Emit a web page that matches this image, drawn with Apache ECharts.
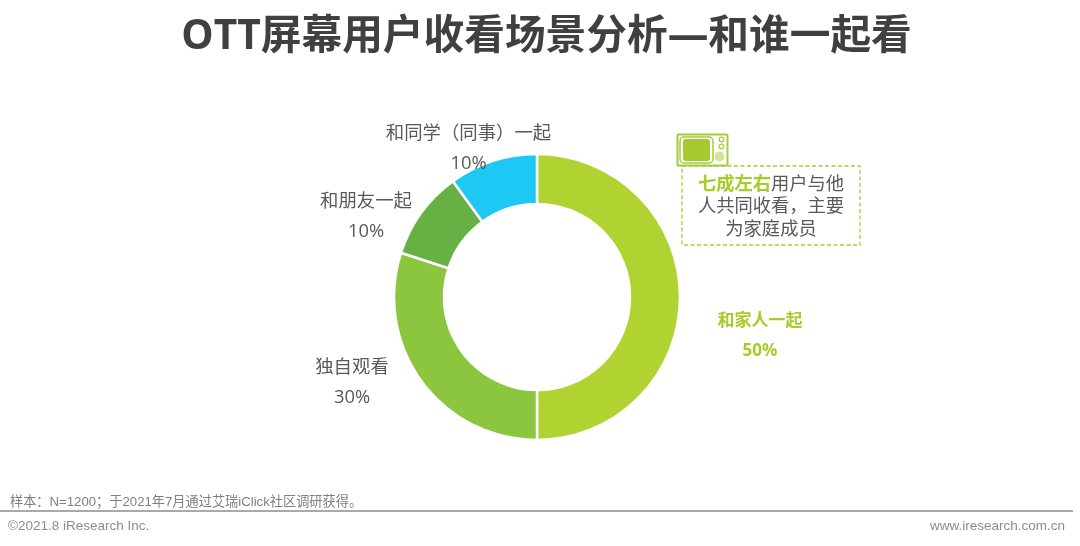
<!DOCTYPE html>
<html lang="zh">
  <head>
    <meta charset="UTF-8" />
    <title>OTT屏幕用户收看场景分析</title>
    <script src="https://cdn.jsdelivr.net/npm/echarts@6/dist/echarts.min.js"></script>
    <style>
      html, body { margin: 0; padding: 0; background: #fff; }
    </style>
  </head>
  <body>
    <div id="main" style="width: 1080px; height: 546px;"></div>
    <script type="text/javascript">
      var categories = ["和家人一起", "独自观看", "和朋友一起", "和同学（同事）一起"];
      var shares = [50, 30, 10, 10];
      var colors = ["#b1d332", "#8cc63f", "#66b044", "#1ec8f5"];
      var labelColors = ["#a5cd28", "#595959", "#595959", "#595959"];
      var labelWeights = ["bold", "normal", "normal", "normal"];
      var labelSizes = [17, 18.4, 18.4, 18.4];
      // label centre positions, same order as categories
      var labelX = [760, 352, 366, 468.5];
      var labelY = [336, 382.5, 216.5, 149];

      var cjk = '"Open Sans", "Noto Sans CJK SC", sans-serif';
      var myChart = echarts.init(document.getElementById("main"));

      var pieData = categories.map(function (name, i) {
        return {
          name: name,
          value: shares[i],
          itemStyle: { color: colors[i] },
          label: { color: labelColors[i], fontWeight: labelWeights[i], fontSize: labelSizes[i] }
        };
      });

      var option = {
        animation: false,
        backgroundColor: "#fff",
        series: [
          {
            type: "pie",
            center: [537, 297],
            radius: [93, 143],
            startAngle: 90,
            clockwise: true,
            itemStyle: { borderColor: "#fff", borderWidth: 2.5 },
            label: {
              show: true,
              formatter: function (p) { return p.name + "\n" + p.value + "%"; },
              fontFamily: cjk,
              lineHeight: 30,
              align: "center"
            },
            labelLine: { show: false },
            labelLayout: function (params) {
              return {
                x: labelX[params.dataIndex],
                y: labelY[params.dataIndex],
                align: "center",
                verticalAlign: "middle"
              };
            },
            data: pieData
          }
        ],
        graphic: [
          {
            type: "text",
            style: { x: 546.5, y: 37.5, align: "center", verticalAlign: "middle", text: "OTT屏幕用户收看场景分析—和谁一起看", font: 'bold 40.7px ' + cjk, fill: "#404040" }
          },
          // callout box
          {
            type: "rect",
            shape: { x: 682, y: 166, width: 178, height: 79 },
            style: { fill: "#fff", stroke: "#a5cd39", lineWidth: 1.3, lineDash: [4, 2.5] }
          },
          {
            type: "text",
            style: {
              x: 771, y: 207, align: "center", verticalAlign: "middle",
              rich: {
                k: { fontFamily: cjk, fontSize: 18.3, fontWeight: "bold", fill: "#a5cd28", lineHeight: 22.5 },
                n: { fontFamily: cjk, fontSize: 18.3, fill: "#595959", lineHeight: 22.5 }
              },
              text: "{k|七成左右}{n|用户与他}\n{n|人共同收看，主要}\n{n|为家庭成员}"
            }
          },
          // tv icon
          {
            type: "rect",
            shape: { x: 677.5, y: 134.5, width: 50, height: 31, r: 1 },
            style: { fill: "#fff", stroke: "#a5cd39", lineWidth: 2 }
          },
          {
            type: "rect",
            shape: { x: 680, y: 137, width: 33, height: 26, r: 4 },
            style: { fill: "#fff", stroke: "#a5cd39", lineWidth: 1.5 }
          },
          {
            type: "rect",
            shape: { x: 683, y: 139, width: 27, height: 22, r: 3 },
            style: { fill: "#a5c92f" }
          },
          { type: "circle", shape: { cx: 721.5, cy: 139.5, r: 2.3 }, style: { fill: "#fff", stroke: "#a5cd39", lineWidth: 1.2 } },
          { type: "circle", shape: { cx: 721.5, cy: 146.5, r: 2.3 }, style: { fill: "#fff", stroke: "#a5cd39", lineWidth: 1.2 } },
          { type: "circle", shape: { cx: 719.5, cy: 156.5, r: 5 }, style: { fill: "#d3e48f" } },
          // footer
          {
            type: "line",
            shape: { x1: 0, y1: 511, x2: 1073, y2: 511 },
            style: { stroke: "#8c8c8c", lineWidth: 1.6 }
          },
          {
            type: "text",
            style: { x: 10, y: 502, verticalAlign: "middle", text: "样本：N=1200；于2021年7月通过艾瑞iClick社区调研获得。", font: '13.2px "Liberation Sans", "Noto Sans CJK SC", sans-serif', fill: "#7f7f7f" }
          },
          {
            type: "text",
            style: { x: 8, y: 526, verticalAlign: "middle", text: "©2021.8 iResearch Inc.", font: '13.5px "Liberation Sans", sans-serif', fill: "#8c8c8c" }
          },
          {
            type: "text",
            style: { x: 1065, y: 526, align: "right", verticalAlign: "middle", text: "www.iresearch.com.cn", font: '13.5px "Liberation Sans", sans-serif', fill: "#8c8c8c" }
          }
        ]
      };

      myChart.setOption(option);
    </script>
  </body>
</html>
